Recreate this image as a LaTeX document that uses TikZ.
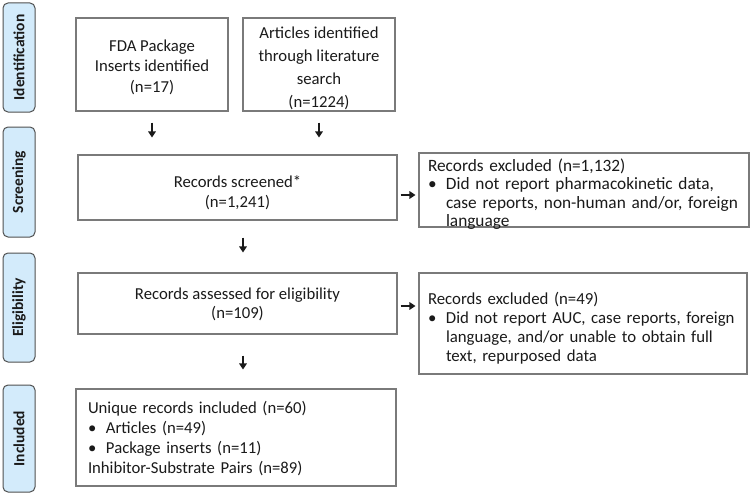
\documentclass[tikz,border=0pt]{standalone}
\usepackage{fontspec}
\setmainfont{Carlito}
\usetikzlibrary{arrows.meta,calc}
\definecolor{lblfill}{HTML}{D3EBFB}
\definecolor{lbldraw}{HTML}{505050}
\definecolor{boxdraw}{HTML}{7A7A7A}
\definecolor{txt}{HTML}{1A1A1A}
\newcommand{\pbul}{\makebox[18pt][l]{\textbullet}}
\newcommand{\pind}{\hspace*{18pt}}
\begin{document}
\begin{tikzpicture}[x=1pt,y=-1pt,
 box/.style={draw=boxdraw, line width=1.1pt, inner sep=0pt},
 bt/.style={inner sep=0pt, text=txt, align=center},
 lt/.style={inner sep=0pt, text=txt, align=left},
 lbl/.style={draw=lbldraw, fill=lblfill, rounded corners=5pt, line width=1pt, rotate=90, text=txt,
   font=\bfseries\fontsize{15.5}{17}\selectfont, inner sep=0pt},
 arr/.style={-{Triangle[width=7.5pt,length=6pt]}, line width=1.9pt, txt}]
\useasboundingbox (0,0) rectangle (750,495);
% stage labels
\node[lbl, minimum width=109pt, minimum height=32pt] (lid) at (19,57.5) {Identification};
\node[lbl, minimum width=110pt, minimum height=32pt] (lsc) at (19,182) {Screening};
\node[lbl, minimum width=109pt, minimum height=32pt] (lel) at (19,307.5) {Eligibility};
\node[lbl, minimum width=107pt, minimum height=32pt] (lin) at (19,438.5) {Included};
% boxes
\node[box, minimum width=152pt, minimum height=93pt,
  label={[bt, yshift=-2.5pt, font=\fontsize{16.7}{20.5}\selectfont]center:{FDA Package\\Inserts identified\\(n=17)}}]
  (fda) at (152,64.5) {};
\node[box, minimum width=152pt, minimum height=93pt,
  label={[bt, yshift=-4pt, font=\fontsize{16.7}{23}\selectfont]center:{Articles identified\\through literature\\search\\(n=1224)}}]
  (art) at (319,64.5) {};
\node[box, minimum width=319pt, minimum height=65pt,
  label={[bt, yshift=-5pt, font=\fontsize{16.7}{20}\selectfont]center:{Records screened*\\(n=1,241)}}]
  (scr) at (237.5,187.5) {};
\node[box, minimum width=330pt, minimum height=74pt,
  label={[lt, text width=312pt, yshift=-4pt, font=\fontsize{17.3}{18.5}\selectfont]center:{\mbox{Records excluded (n=1,132)}\\
   \mbox{\pbul Did not report pharmacokinetic data,}\\
   \mbox{\pind case reports, non-human and/or, foreign}\\
   \mbox{\pind language}}}]
  (ex1) at (584,190) {};
\node[box, minimum width=319pt, minimum height=61pt,
  label={[bt, yshift=-0.5pt, font=\fontsize{16.7}{19}\selectfont]center:{Records assessed for eligibility\\(n=109)}}]
  (elig) at (237.5,303.5) {};
\node[box, minimum width=328pt, minimum height=101pt,
  label={[lt, text width=310pt, yshift=-5pt, font=\fontsize{16.8}{19}\selectfont]center:{\mbox{Records excluded (n=49)}\\
   \mbox{\pbul Did not report AUC, case reports, foreign}\\
   \mbox{\pind language, and/or unable to obtain full}\\
   \mbox{\pind text, repurposed data}}}]
  (ex2) at (583,323.5) {};
\node[box, minimum width=320pt, minimum height=97pt,
  label={[lt, text width=296pt, yshift=-1pt, font=\fontsize{16.7}{20}\selectfont]center:{Unique records included (n=60)\\
   \pbul Articles (n=49)\\
   \pbul Package inserts (n=11)\\
   Inhibitor-Substrate Pairs (n=89)}}]
  (inc) at (236,437.5) {};
% arrows
\draw[arr, shorten <=11pt, shorten >=17pt] (fda.south) -- (fda.south |- scr.north);
\draw[arr, shorten <=11pt, shorten >=17pt] (art.south) -- (art.south |- scr.north);
\draw[arr, shorten <=3pt, shorten >=3pt] ([yshift=-7.5pt]scr.east) -- ([yshift=-7.5pt]scr.east -| ex1.west);
\draw[arr, shorten <=17pt, shorten >=20pt] ([xshift=5.5pt]scr.south) -- ([xshift=5.5pt]scr.south |- elig.north);
\draw[arr, shorten <=3pt, shorten >=3pt] ([yshift=-2.5pt]elig.east) -- ([yshift=-2.5pt]elig.east -| ex2.west);
\draw[arr, shorten <=21pt, shorten >=19pt] ([xshift=5.5pt]elig.south) -- ([xshift=5.5pt]elig.south |- inc.north);
\end{tikzpicture}
\end{document}
